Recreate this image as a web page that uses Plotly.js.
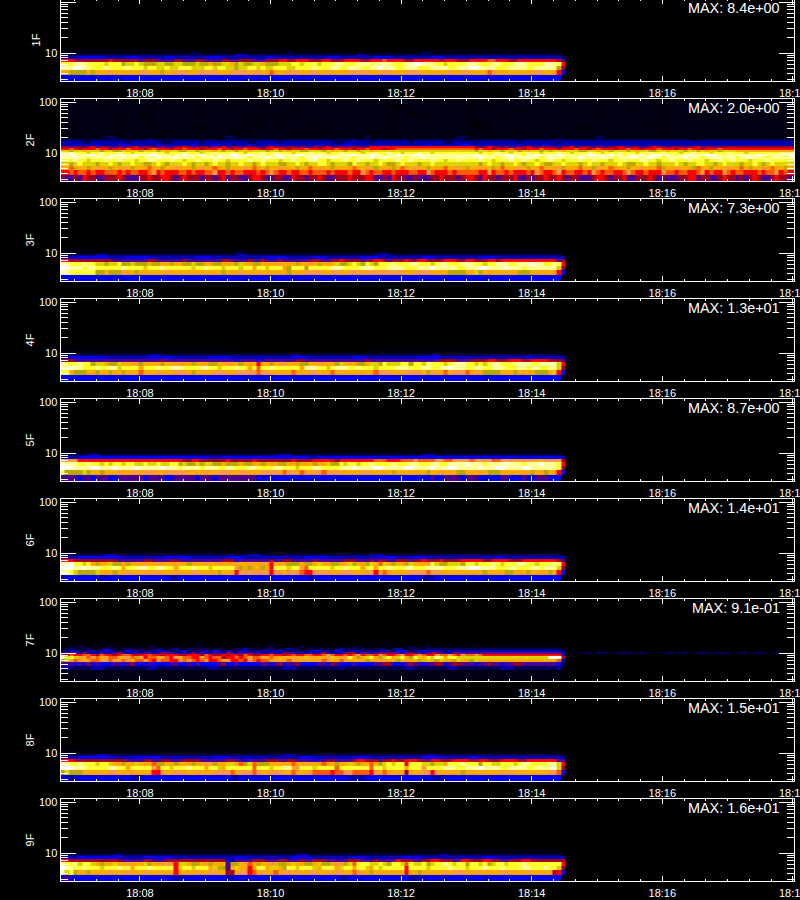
<!DOCTYPE html>
<html><head><meta charset="utf-8">
<script src="https://cdn.plot.ly/plotly-3.0.1.min.js"></script>
<style>html,body{margin:0;padding:0;background:#000;overflow:hidden;width:800px;height:900px}
#chart{position:absolute;left:0;top:-2px;width:800px;height:904px}</style>
</head><body><div id="chart"></div>
<script>
// Intensity levels, one character per 4 s cell: 0 black … 4 blue … 7 red … a orange … d yellow … f white.
// Row format: "tokens|edge|tail"; x*n repeats a level, @n continues at column n.
const panelNames = ["1F","2F","3F","4F","5F","6F","7F","8F","9F"];
const maxLabels = ["MAX: 8.4e+00","MAX: 2.0e+00","MAX: 7.3e+00","MAX: 1.3e+01","MAX: 8.7e+00","MAX: 1.4e+01","MAX: 9.1e-01","MAX: 1.5e+01","MAX: 1.6e+01"];
const energyEdges = [2.7,3.7,4.7,5.7,6.7,7.7,8.7,9.7,10.7,11.7,12.7,13.7,15,17,19,22,25,29,34,40,47,56,66,78,92,115];
const levelColors = ["#000000","#000012","#00005c","#0000b0","#0000f0","#4a0090","#a00020","#ff0000","#ff5a00","#ff9a40","#ffaa00","#b8a800","#dcd400","#ffff30","#ffff9c","#ffffff"];

const rows1F = [
"4*115|0|0",
"a*2 b*4 a b a*3 9 a*6 9*2 a*3 b a*2 9*3 a*2 9*5 a*3 9*4 a 9*2 a*2 8 a*3 9*3 a*2 9*2 a*2 9 a*4 9*5 a*2 9*3 a*3 9*4 a*6 9 a*2 9*2 a*4 8 9 a*8 9*3 a*5 8 @114 7|4|0",
"e*3 f*2 e*2 d*3 e d*4 e d*3 c d*2 c*2 d c*2 d*3 c*3 d*2 c d*2 c*2 b c*2 d*2 c d c*2 d*3 c*2 d*4 e d*3 e*2 d*2 e*3 d*2 e*2 f e*3 d*2 e*3 d*3 e*4 d*2 e*3 f*2 e*4 d*3 e*4 d*2 e*5 @114 b|6|0",
"d*3 e*3 d*4 c d*3 b c*2 d c b*3 c*2 b*2 c*2 b*3 c b*2 a b*2 c*2 a b c b*2 c*2 a b*3 c*3 d*2 c d*3 c d*3 e*2 d*3 e*3 d e*4 d*3 e*2 f*2 e*3 d*2 c d*4 e*3 d*3 e*2 d*3 e*3 d*4 e*5 f e*2 @114 d|7|0",
"7*3 6*8 7 6*6 5 6*3 5*4 6*2 5*3 6*2 5*4 6*2 5*2 6*3 5*3 6*3 7*2 6*2 7*3 6*3 7*2 6*3 7*4 6*2 7*3 8 7*4 6*2 7*6 6 7*3 6*3 7*4 8*2 7*3 6*2 7*5 @114 6|5|0",
"3*4 4*6 3*5 4*3 3*6 4*2 3*8 4*3 3*10 4*2 3*12 4*3 3*8 4*4 3*9 4*3 3*20|2|0",
"2*40 3*3 2*25 3*2 2*45|1|0",
"1*30 2*2 1*20 2 1*30 2*2 1*29|0|0",
"1*60 0*20 1*35|0|0"];

const rows2F = [
"6 5*2 6 5 7 6*2 5*2 6*3 7 6 5*3 6*2 7 6*2 7*2 6 5 6 7 6*3 5 6*2 5 6 7 5 6*2 5*2 6 7*2 6 5*2 6*2 5*2 7 6*2 5 6*2 7 6 5*2 6*3 7 6*3 7*2 5*2 6 5 7 6*2 5*2 6 5*3 6*2 7 6*3 5 6 7*2 6 5*2 6 7*2 @95 6 5 7 6*2 5 6*3 7 5*2 6 5 6*2 7 6 @112 6*2 7 6 5 6*2 5*3 6 7*2 6 5 6*2 7 5*2 6*3 7 6 5 6 5*3 6*2 7*2 5 6*2 5*2 6 7 6*2 5 6 5 6 7 6 5*2 6 7 6*2 5",
"7*2 8 7 8*2 7 8 7*2 8*3 7 8 7 8*2 7*2 8 9 7 8 7*3 8*2 7 8 7*2 8*2 9 7*2 8 7 8*2 7*3 8 7 8 9 8 7*2 8 7*2 8*2 7 8*3 7 8 7*3 8 7*2 9 8 7 8*2 7*2 8 7*3 8*2 7*2 9 8 7*3 8 7 8*2 @95 8 7*2 9 7 8*2 7 8 7*3 8 7 9 8 7 8 @112 7 8 9 7 8*2 7*2 8 7 9 8 7 8*2 7*2 8 9 8 7*2 8 7*3 9 8*2 7 8*2 7*2 8 9 7 8 7*2 9 8 7 8*2 7*3 8 7 8*2 9 7 8 7*2",
"a*2 8 a*3 b a 9 a*2 b a*2 9 a b a*3 8 a*2 b a*2 9 a*3 b a 9 a*2 8 a*2 b a*3 9 a 8 a*2 b a*2 9 a*3 b a*2 8 a 9 a*2 b a*3 a 8 a*2 9 a b a*3 b a 8 a*2 9 a*2 b a*3 8 a*2 9 a b a*2 8 @95 a 9 a*2 b a 8 a*3 9 a b a*2 8 a*2 @112 a*2 9 b a*3 8 a*2 b 9 a*2 8 a*3 b a*2 9 a*3 8 b a*2 9 a*3 b 8 a*2 b a*3 9 a*2 8 a b a*2 9 a 8 a*2 b a",
"c*2 b c d c*3 b c*2 d c b c*2 d c*2 b*2 c d c b c*3 d c b c*2 b c d c*2 b c*2 d c*2 b c d c*3 b*2 c*2 d c b c*2 d*2 c b c*3 b d c*2 b c*2 d c b*2 c d c*3 b c*2 d c*2 @95 c b c d c*2 b c*2 d c b c*2 d c b @112 b c*2 d c*3 b c d c*2 b c*3 d c b*2 c*2 d c*2 b c*3 d c b c*2 d*2 c*2 b c d c*3 b c*2 d c b c d c*2",
"d*3 e d*2 c d*3 e d*2 e d*3 c d*2 e*2 d*3 e d*2 c d*2 e d*3 e d*2 c d*4 e d*2 e d*3 c d*2 e d*3 e*2 d*2 c d*3 e d*2 e d*3 c d*4 e d*2 e d*3 d e d*2 c d*2 e d*3 @95 d e d*2 c d*3 e d*2 e d*2 c d*2 @112 e d*2 c d*3 e d*2 e d*3 c d*2 e d*3 e*2 d*2 c d*2 e d*3 e d*3 c d*2 e d*2 e d*3 c d*3 e d*2 d",
"e*3 f e*2 d e*4 f e*2 f e*3 d e*3 f e*3 f e*2 e*2 d e*4 f e*3 f e*2 d e*3 f e*2 f e*4 d e*2 f e*3 f e*2 e*2 d e*3 f e*2 f e*4 d e*3 f e*3 @95 e f e*3 d e*2 f e*3 f e*2 d e @112 f e*3 d e*2 f e*4 f e*2 d e*3 f e*3 f e*2 d e*4 f e*3 d e*2 f e*4 d e*2 f e*3 d e*2",
"e*2 f e*3 f*2 e*2 d e*2 f e*3 f e*2 f*2 e*3 d e*2 f e*3 f e*2 d e*3 f*2 e*2 f e*3 d e*2 f e*3 f*2 e*2 e f e*2 d e*3 f*2 e*3 f e*2 d e*2 f e*3 f*2 e*2 @95 f e*2 d e*3 f*2 e*2 d e*2 f e*2 @112 e*2 f e*3 d e*2 f*2 e*3 f e*2 d e*3 f e*2 f*2 e*3 d e*2 f e*3 f*2 e*2 d e*3 f e*3 f e*2",
"d*2 e d*3 c d*2 e d*3 e d*2 c d*4 e d*2 c d*3 e d*3 c d*2 e d*3 e d*2 c d*3 e d*2 e d*3 c d*3 e d*3 c d*2 e d*4 c d*2 e d*2 e d*2 c d*3 e d*2 c d*4 @95 d c d*3 e d*2 c d*3 e d*2 c d @112 d*2 e d*2 c d*3 e d*2 c d*3 e d*3 c d*2 e d*2 e d*3 c d*2 e d*3 c d*3 e d*2 d c d*3",
"c*2 b c*2 a c*3 b c*2 b*2 c a c*2 b c*3 b c a c*2 b*2 c*2 b c*3 a c b c*2 b c*2 a c*3 b c*2 b c a c*2 b*2 c*3 b c a c*2 b c*2 b c*2 a c*3 @95 b c*2 a c*2 b c*3 b c a c*2 b c @112 b c*2 a c*3 b*2 c*2 a c*2 b c*3 b c a c*2 b*2 c*2 a c*3 b c*2 b c a c*2 b c*3 a",
"7*2 8 7 6 7*3 8 7*2 6 7*3 8 7*3 6 7 8 7*3 6 7*2 8 7*3 6 7*3 8 7*2 6 7*2 8 7*3 6 7*2 8 7*2 6 7*3 8 7*2 6 7*3 8 7*2 7 6 7*2 8 7*3 6 7*2 8 @95 7 8 7*2 6 7*3 8 7*2 6 7*3 8 7 @112 7*2 6 7*3 8 7*2 6 7 8 7*3 6 7*2 8 7*2 6 7*3 8 7*3 6 7*2 8 7*2 6 7*3 8 7",
"6*2 5 6 6 5 6 7 5 6*2 5*2 6 5 6*2 7 5 6*3 5 6 5*2 6*2 7 6 5 6*3 5 6*2 7 5 6*2 5 6*3 5*2 6 7 6*2 5 6*2 5 6 5*2 6*3 7 5 6*2 5 6*3 5 6 7 @95 6 5 6 7 6*2 5 6 5*2 6*2 7 6 5 6*2 @112 6 5*2 6*2 7 5 6*3 5 6 5*2 6*2 7 6 5 6*2 5*2 6 7 6*2 5 6*3 5 6*2 7 5 6*2 5 6",
"3*3 4 3*4 4 3*5 4*2 3*6 4 3*7 4 3*4 4*2 3*6 4 3*5 4 3*9 4 3*5 4*2 3*6 4 3*10 4 3*7 4*2 3*4 4 3*6 4 3*5 4 3*10",
"3*5 2*2 3*8 2 3*7 2*3 3*6 2 3*10 2*2 3*5 2 3*12 2*2 3*6 2 3*8 2 3*7 2*2 3*5 2 3*9 2 3*8 2 3*12",
"2*20 3 2*15 1 2*30 3 2*25 1 2*20 3 2*30 1 2*20",
"1*10 2*3 1*25 2*2 1*30 2 1*20 2*2 1*30 2*2 1*40",
"1*25 0 1*14 0*2 1*33 0 1*20 0 1*40 0 1*31",
"1*12 0 1*40 0 1*18 0*2 1*30 0 1*34 0 1*29",
"1*30 0*2 1*27 0 1*35 0 1*24 0*2 1*46",
"0 1*20 0 1*22 0*2 1*30 0 1*17 0 1*40 0 1*33",
"1*14 0 1*33 0 1*26 0 1*19 0*2 1*40 0 1*32",
"1*18 0*2 1*24 0 1*30 0 1*26 0 1*35 0 1*31",
"0*2 1*30 0 1*19 0 1*27 0*2 1*40 0 1*26 0 1*18",
"1*22 0 1*15 0 1*38 0 1*27 0*2 1*30 0 1*32",
"1*9 0 1*36 0 1*28 0*2 1*19 0 1*33 0 1*39",
"1*16 0*2 1*21 0 1*30 0 1*23 0 1*41 0 1*33"];

const rows3F = [
"4*115|0|0",
"e*2 d*6 b*2 a b*3 9 a*2 b a*6 9 a*12 b a*3 9 a*10 b a*3 9*4 a*2 9*2 a*2 9*3 a 9*9 a*2 9*4 a*4 b*4 a*2 c b a*8 b*3 a*14 @114 7|4|0",
"f*2 e*3 d e*2 d*6 e d*4 c d*3 e d*6 c d*2 e d*3 c d*3 c d*2 a d*2 c d*3 a b d*3 b d*5 e*3 d*4 e*3 d*3 e*4 d*3 e*3 f e*5 d*2 e*3 f*2 e*4 f e*3 d e*3 @114 c|6|0",
"e*2 d*3 e d*2 c*2 b c*2 d b*2 c b*3 a b*2 a*2 b a*2 b*2 c b*2 a*2 b*2 a*3 b c a*2 b*2 a*4 9 a*3 b a*2 9 a b a*3 c b*2 c d c b d c b d*3 e d*3 e*2 d*3 c d e*2 d*3 e*3 d*2 c d*2 e*3 d*2 e*3 f e*2 d*2 e*3 f e*3 @114 d|7|0",
"7*2 6*10 5*8 6*2 5*6 6 5*8 6*2 5*4 6 5*2 6 5*3 6 5*6 6*3 5*2 6*2 7 6*4 5 6*2 7*2 6 5 6*3 7 6*2 7*2 6*4 7*3 6*2 7*2 6*3 7*2 6 7*3 @114 5|6|0",
"3*3 4*8 3*4 4*6 3*10 4*4 3*12 4*5 3*6 4*3 3*8 4*4 3*10 4*3 3*10 4*4 3*16|3|0",
"2*8 3*3 2*30 3*2 2*30 3*3 2*36|1|0",
"1*40 2*2 1*30 2*3 1*38|0|0",
"1*50 0*30 1*35|0|0"];

const rows4F = [
"4*115|0|0",
"d*2 a b*3 a*2 b a*2 b a*2 b a*2 @18 8 a*3 9 a*3 9*3 a b a*4 9*3 a*2 9 a*2 @40 9*5 @45 8 9*2 a*2 @53 8 a*3 9*2 a*2 @62 8 a*7 @72 8 9*3 a*3 9*4 a b 9 a*2 8 a 9*3 8 a 9 a b*4 a*3 b a*4 b*3 a c b a*3 b*3 a*2 @114 7|4|0",
"e*2 f e*2 d*3 e d*2 e*2 c d*2 @18 a d*3 e d*2 e*3 d*4 e*2 d*2 c d*3 e d*2 a d @45 8 d*2 e d*3 @55 a e*3 d*2 c d e*3 d*2 e d*3 c d*4 e*3 d*3 e*2 d*2 e*2 f e*3 d*2 e*2 d*2 e*3 d*3 e*2 d e*2 d*2 e*3 @114 c|6|0",
"e d*3 e d*2 b c*2 a b*2 c a*3 9 b a*4 b a*3 9 a*2 b a*3 b*2 a*2 9 a*2 b a*4 @45 7 a*2 b a 9*2 a*3 b*2 a*2 9 a*3 b c a*3 b*2 a c*2 b d c*3 d*2 b d*2 c e d*3 c d e*3 d*2 c d c d e*2 d*3 e*4 d*2 e*3 @114 c|7|0",
"6*3 5*20 6 5*16 4 5*4 @45 4 5*8 6*2 5*14 6 5*16 6*4 5*3 6*4 7*2 6*3 7*3 6*2 7*4 6*3 7*4 @114 6|5|0",
"3*2 4*8 3*10 4*6 3*8 4*5 3*14 4*4 3*10 4*3 3*12 4*5 3*20 4*2 3*6|3|0",
"2*20 3*3 2*30 3*2 2*30 3*2 2*28|1|0",
"1*115|0|0",
"1*40 0*30 1*45|0|0"];

const rows5F = [
"5*4 4 5*2 4 5*3 4*2 5*6 4 5*4 4*2 5*5 4 5*3 4 5*4 @45 4*40 5 4*2 5*4 4 5*3 4*5 5*2 4*3 5 4*2 5*3 4|0|0",
"d b*4 c b a*2 b a*3 9 a*2 9*2 a 9*3 a*2 9*5 a*4 9 a*2 9*3 a*2 9*2 a*3 9*4 a 8 9*2 a 8 9 a 9*2 8 9*3 a*5 9*2 a*5 b a*7 b a*2 9 a*3 b*2 a*5 b*3 a*7 b a*2 b a*4 @114 7|4|0",
"f*3 e*4 f*2 e*3 f e*4 f e*5 f e*3 d e*4 d e*3 d*2 e*2 d*3 e*2 d*4 e*2 d*3 c d*3 e*2 d*4 e*3 f e*4 f*2 e*5 f*2 e*4 f e*3 f*2 e*5 f e*3 f*2 e*4 f*2 e*3 @114 d|6|0",
"e*4 d*2 e d*2 c d c d*2 c d*2 c*2 d c*2 d c*2 d*2 b c b*2 c b c*2 b*2 a b*3 a b*2 a*2 b a*3 b*2 a*2 b a*3 b a*2 c b*2 d c d*2 c d*2 e d*4 e d*3 e*2 d*3 e*2 d*2 e*4 f e*3 d e*4 f e*3 d e*3 f e*5 f e*3 @114 d|7|0",
"9*3 a 7*24 6*2 7*2 6*6 7 6*5 7 6*8 7 6*4 7*5 6 7*8 8*3 7*3 8*3 9 8*4 9*2 8*2 9*4 8 9*4 8*2 9*3 a 9*4 a*2 9*5 8 9*2 a*2 @114 9|6|0",
"3*4 4*30 3*3 4*20 3*2 4*56|3|0",
"2*6 3*3 2*40 3*4 2*30 3*3 2*29|1|0",
"1*115|0|0",
"1*60 0*20 1*35|0|0"];

const rows6F = [
"3 4*8 3 4*15 3*2 4*30 3 4*25 3*3 4*30|0|0",
"e*2 d c b*4 c a*3 b a*2 9 a*3 9 a 9 a*4 9 a*3 9*2 a*4 b a @40 7 9*7 @48 7 9*2 a 9*3 @55 8 7*2 9*4 a*2 9*3 a*3 9 @72 7 a 8 a*5 9*2 @84 8 9*2 a*10 b a*4 b*2 a*3 b a*4 b a*6 @114 7|4|0",
"f*3 e*2 f e*3 d*3 e d a d*2 e*3 d*2 e*2 d*2 a d*3 e d*3 c d*2 @40 9 b a b a*2 b a @48 7 d*3 c d*3 @55 9 8 d*5 c d*2 e d*3 a d*2 @72 a d*2 e d*3 e*2 d*3 e*4 d*3 e*3 f*2 e*4 d*3 e*2 d*3 e*2 d e*3 @114 c|6|0",
"e*2 f d*2 c d a b a*2 c b*2 a b a*3 9 a*2 9 a*3 9 a*2 b a*3 9 a*2 9 a @40 9 a*2 9 a*2 9 a @48 7 a*2 9 b*3 a b*2 a c a*2 b*2 a*2 c b a*2 b c d*3 c @72 a 8 c a b a*2 b c a*2 @84 9 d c b b c*3 b d*2 c d*3 e d c d*3 e*2 d*2 c d*3 e d*3 @114 d|7|0",
"7*3 6*10 5*6 6*2 5*4 6*2 5*10 6 @40 4 5*7 @48 6 5*2 6*2 5*5 6 5*6 6*3 5*3 6 5*2 @72 5 6*2 5*2 6*3 5 6*2 7 6*3 7 6*4 7*5 6*2 7*4 6*3 7*5 @114 6|5|0",
"3*4 4*10 3*10 4*6 3*8 4*4 3*14 4*5 3*12 4*4 3*4 4*3 3*16 4*2 3*13|3|0",
"2*10 3*3 2*30 3*3 2*25 3*3 2*38|1|0",
"1*115|0|0",
"1*60 0*20 1*35|0|0"];

const rows7F = [
"1*115|1|0",
"1*40 0 1*30 0 1*43|0|0",
"3*2 2*5 3*3 2*10 3*2 2*12 3*2 2*15 3*3 2*10 3 2*14 3*2 2*8 3*2 2*10 3*3 2*10 3*2|1|0",
"5*3 4 5 4 6 4 5 4*3 5*2 4 5 6 4*3 5 4*4 5*2 4*2 5 4 5 4*4 5 6 4*2 5 4*5 5*2 4 5 6 4 5*2 6 4*4 5*2 4 6 5 4*3 5 4*4 5*2 6*2 4*3 5 6 5*2 4 5*2 6*2 4 5 6*2 5*3 4 5*2 6 5*2 4 5*2 6*2 5 @114 4|2|0",
"b c 9 8 9 a 9 8*2 9*2 8 9*2 8 9 a 8*2 9 8 7 9 8*2 7*2 9 8 9 8 7 8 9 7*2 8 9*2 7*2 8 7 9 8 7 8*2 a 9 a*2 8 9 a*2 9 a*2 9 8 9 a*2 8 a*3 9 a b a*2 9*2 a*2 b a 9 a*2 b a c a b c a*2 b c a*2 b c a*2 @112 a*2 8|3|0",
"e c d c a 9 8 9 8 a 9 8*2 a 9*2 8 b 9 7 8*2 a 9 8 7 9 a 8*2 7*2 9 8 7 8*2 6 7*2 8 7 8 9 8*2 9 a 8 a*2 9 a*2 9 a c 9 a*3 9 c a*2 9 d a b a c d a b c d a c d a b d c a d c e d a d*2 c @112 f*3|6|0",
"7 6 8 7*2 8*2 7 6 8 7*2 6 7 8*2 7 6 7*2 8 7*2 6 7*3 6*2 7*3 6 8 7 6*2 7 6 7*2 6 8 7 6*2 7*2 8 7*2 6 7 8 7*2 8*2 7*2 8 9 8 7*2 8 7 8 9 7 8*2 7 9 8 7*2 8 9 7*2 8 9 8 7*2 9 8*2 9 8 7 9 8*2 9 8 7*2 @114 7|3|0",
"3*2 6 5 3 6 3*3 5 3*2 5 6 3*3 5 3 5*2 3*2 6 5*2 3*2 5 3 6 3 5 3*2 5*2 3 6 5 3 5*3 3 5 3*2 5 3*2 6 5*2 3*3 5 3*2 6 3*4 5 6*2 3 5*2 3 5 6 5 6 5*2 3 5 6 5*2 3 5 6*2 5 3*2 6 5*2|3|1*4 2*2 1 2*3 1*2 2*4 1 2*2 1*3 2*3 1 2*2 1*2 2*3 1 2*4 1*2 2*2 1 2*3 1*2 2*2 1",
"2*2 4 3 2*2 3*2 2 3 4 3 2*3 4 3*2 2*2 3 2 4 3*2 2*2 3 4 2*3 3*2 2 4 3 2 3 2*2 3 4 2 3*2 2 3*3 4 2*2 3 2*3 3 4 3*2 2*2 4 3 2 3*2 4 2*2 3 2 4 3*2 2 4*2 3 2*2 3 4 3*2 4 3 2 3|2|1*2 0 1 0*3 1*2 0*2 1 0*4 1*2 0 1 0*3 1 0*2 1*2 0*3 1 0 1*2 0*4 1 0",
"1 2*3 1 2*2 1*2 2 3 2*2 1 2*3 1 2 1*2 2*3 1 2 3 1*2 2*2 1 2*2 1*2 2 1*3 2*2 3 2 1*2 2*3 1 2*2 3 2*2 1*2 2 1 2*3 1 2 3 2*3 1 2*2 1 2*3 1 2 3 2 1 2*3 1 2|1|0",
"1*4 2 1*6 2 1*8 2 1*2 0 1*7 2 1*5 0 1*10 2 1*6 2 1*5 0 1*5 2 1*12 2 1*3 2 1*9|1|0",
"1*30 0 1*20 0 1*30 0 1*32|0|0",
"0*10 1 0*20 1*2 0*15 1 0*25 1*2 0*38|0|0",
"1*5 0*8 1 0*15 1 0*40 1*3 0*20 1*2 0*19|0|0",
"0*20 1 0*30 1 0*63|0|0"];

const rows8F = [
"4 3*3 4*12 3*3 4*20 3*2 4*25 3*4 4*15 3*3 4*28|0|0",
"b c b*3 a*6 9*2 a*3 9 a @21 7*2 9 a*2 9*2 a*3 9 a*3 9*4 8 a 9*2 @44 8 9 a*2 9*3 a @53 8 a*3 9 8*2 9 @60 8*2 7 8*2 9*2 8*4 @71 7 9 a 8 a*2 @79 6 a*3 9*2 7 9 a*5 b a*8 9 a 9 a*8 9*2 a*4 9 a*3 b a*3 @114 8|4|0",
"f*3 e*3 d*5 e*2 d*2 a d*3 @21 9 8 d*2 c d*3 e d*3 a d*2 c a d*3 @44 8 d*3 c d*2 e @53 a 9 d*3 c d*4 8 d*3 @71 8 d*2 c d*3 @79 a d*3 9 d*4 e*3 d*2 e*3 f e*4 d*2 e*4 d*2 e*4 f e*3 d*3 e*2 d*2 @114 c|6|0",
"e*2 d*2 e d*3 c d*2 c a*2 b a*2 c a*3 @21 8 b*2 a*2 b a*3 b a*2 9*2 b a*2 c*2 a 8 b c*2 @44 8 b*3 a*2 @53 8 a*2 9 a*3 8 a*2 b a*2 c a b a @71 8 a b c d c d*2 c @79 7 d*3 c*2 b c*2 a d*3 e d*3 b d*2 c*2 d*3 c d e*2 d*4 e*3 d*3 @114 c|7|0",
"7*3 6*12 5*4 6*2 5*2 6*2 5*3 6*4 5*6 6*2 5*2 4 5*4 6*3 5*2 6*2 5*4 4 5*2 6*2 5*4 6 7*2 6*3 5 6*2 7 6*2 7*3 6*2 5 7*2 6*3 7*4 6*2 7*2 6*3 7*4 6*2 7*4 @114 5|5|0",
"3*4 4*8 3*5 4*6 3*12 4*4 3*16 4*3 3*9 4*4 3*12 4*5 3*6 4*2 3*19|3|0",
"2*8 3*3 2*40 3*3 2*30 3*2 2*29|1|0",
"1*115|0|0",
"1*60 0*20 1*35|0|0"];

const rows9F = [
"4 5 4*24 3*2 4*10 @38 3*2 4*24 3*2 4*14 3*3 4*32 3|0|0",
"e c d b a*2 b a*4 9 a*3 9 a*3 9 a*4 @26 7 a*4 9 a*2 9*2 a @38 6*2 a 9*2 @43 7 8 a 9 a*2 8 a 9*2 a 9 a*2 9*2 a*2 9 a 9*2 a*5 @67 8 9 a*2 b a*7 @79 7 a*2 b a*5 9 a 9*3 a*2 9 a*5 9*2 a*4 9 a*2 @113 6 7|4|0",
"f e*2 d*2 e d*3 c d*3 e d*2 a d*3 e d*2 @26 7 c d*2 c d*3 a c b @38 5 a c a*2 9 @43 7 a d*2 a c*2 a b d*2 c d*3 c a d*3 a c d*2 a 8 a @67 a d*2 c a d c d*2 @79 7 d*4 c d*4 e d*3 c d*3 e d*3 e d*4 e*2 d*3 e d*3 @114 c|6|0",
"e d*2 e c d*2 c a b a*2 c a*2 9 a*3 c b a*2 9 @26 7 c*2 a b*2 a 9 b a*2 @38 5 b*2 a 9 @43 8 a b a*2 9 a b*2 a c a*2 b*2 a c b*2 a 9*2 b c a*2 b d c b*2 @67 8 d*3 c*2 d c b d*2 c d @79 8 d c*2 d b c d*2 e d c d*2 b d*2 c d b c d*2 c d*3 e d*2 @114 d|7|0",
"7*2 6*12 5*5 6*2 5*3 6*3 @38 3*2 5*4 6*3 5*3 6*2 5*3 6 5*2 6*3 5*5 6*3 5*3 6 5*4 7 6*3 5*2 6*2 7*2 6*3 5*2 7*2 6*3 7*2 6*2 5*2 6*3 7*2 6*2 @114 6|6|0",
"3*4 4*10 3*5 4*7 3*14 4*3 3*10 4*4 3*10 4*3 3*8 4*5 3*14 4*3 3*15|3|0",
"2*12 3*2 2*40 3*3 2*30 3*2 2*26|1|0",
"1*115|0|0",
"1*60 0*20 1*35|0|0"];

const allRows = [rows1F,rows2F,rows3F,rows4F,rows5F,rows6F,rows7F,rows8F,rows9F];

const startTime = Date.UTC(2007,6,12,18,6,47), cellMs = 4000, nCols = 169;
const xEdges = []; for(let i=0;i<=nCols;i++) xEdges.push(startTime+i*cellMs);
const axisEnd = startTime + 674000;

function expand(tokens){
  const cells=[];
  tokens.trim().split(/\s+/).forEach(t=>{
    if(t[0]==='@'){
      const n=+t.slice(1);
      if(cells.length>n) cells.length=n;
      while(cells.length<n) cells.push(cells[cells.length-1]);
    } else {
      const [c,m]=t.split('*');
      for(let i=0;i<(m?+m:1);i++) cells.push(parseInt(c,16));
    }
  });
  return cells;
}
function decode(row){
  const [body,edge,tail]=row.split('|');
  let cells=expand(body);
  if(edge===undefined){
    while(cells.length<nCols) cells.push(cells[cells.length-1]);
    return cells.slice(0,nCols);
  }
  while(cells.length<115) cells.push(cells[cells.length-1]);
  cells=cells.slice(0,115);
  cells.push(parseInt(edge,16));
  cells=cells.concat(expand(tail));
  while(cells.length<nCols) cells.push(cells[cells.length-1]);
  return cells.slice(0,nCols);
}
const blank = Array(nCols).fill(0);

const sans='"Liberation Sans",Arial,sans-serif';
const colorscale = levelColors.map((c,i)=>[i/15,c]);
const H=904, traces=[], layout={
  width:800,height:H,margin:{l:0,r:0,t:0,b:0},paper_bgcolor:'#000',plot_bgcolor:'#000',
  showlegend:false,font:{family:sans,size:11,color:'#fff'},annotations:[]
};
const white='#fff';
allRows.forEach((rows,k)=>{
  const yb=81+100*k, yt=yb-82, s=k?String(k+1):'';
  const z=rows.map(decode).slice(0,energyEdges.length-1);
  while(z.length<energyEdges.length-1) z.push(blank);
  traces.push({type:'heatmap',x:xEdges,y:energyEdges,z,xaxis:'x'+s,yaxis:'y'+s,colorscale,zmin:0,zmax:15,showscale:false,hoverinfo:'skip',zsmooth:false});
  layout['xaxis'+s]={type:'date',domain:[60.5/800,794/800],range:[startTime,axisEnd],anchor:'y'+s,
    tickformat:'%H:%M',tick0:Date.UTC(2007,6,12,18,8),dtick:120000,ticks:'inside',ticklen:5,tickcolor:white,tickwidth:1,
    minor:{ticks:'inside',ticklen:2,dtick:20000,tick0:Date.UTC(2007,6,12,18,8),tickcolor:white,tickwidth:1,showgrid:false},
    showgrid:false,zeroline:false,showline:true,linecolor:white,linewidth:1,mirror:'allticks',
    tickfont:{family:sans,size:11,color:white},ticklabelstandoff:2};
  layout['yaxis'+s]={type:'log',domain:[1-(yb+2)/H,1-(yt+2)/H],range:[1-28/51,1+54/51],anchor:'x'+s,
    dtick:1,ticks:'inside',ticklen:15,tickcolor:white,tickwidth:1,
    minor:{ticks:'inside',ticklen:7,dtick:'D1',tickcolor:white,tickwidth:1,showgrid:false},
    showgrid:false,zeroline:false,showline:true,linecolor:white,linewidth:1,mirror:'allticks',
    tickfont:{family:sans,size:11,color:white},
    title:{text:panelNames[k],font:{family:sans,size:11,color:white},standoff:2}};
  layout.annotations.push({xref:'paper',yref:'paper',x:782/800,y:1-(yb-73+2)/H,xanchor:'right',yanchor:'middle',showarrow:false,
    text:maxLabels[k],font:{family:sans,size:14.4,color:white}});
  layout.annotations.push({xref:'paper',yref:'paper',x:793/800,y:1-(yb+12+2)/H,xanchor:'center',yanchor:'middle',showarrow:false,
    text:'18:18',font:{family:sans,size:11,color:white}});
});
layout.annotations.push({xref:'paper',yref:'paper',x:427/800,y:1-(904+2)/H,xanchor:'center',yanchor:'middle',showarrow:false,
  text:'Start Time (12-Jul-07 18:06:47)',font:{family:sans,size:11,color:white}});
Plotly.newPlot('chart',traces,layout,{displayModeBar:false,staticPlot:true});
</script></body></html>
